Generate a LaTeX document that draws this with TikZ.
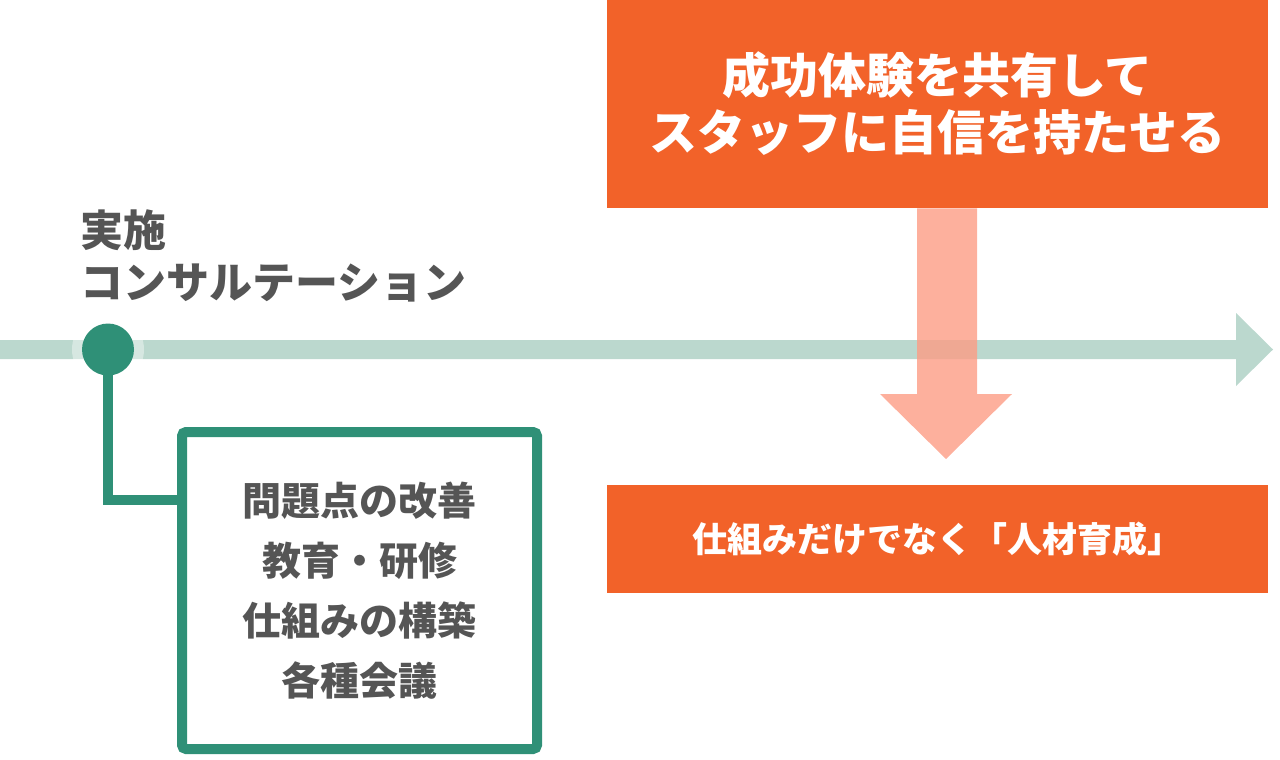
\documentclass[tikz,border=0pt]{standalone}
\usepackage{fontspec}
\setmainfont{Noto Sans CJK JP}
\usetikzlibrary{positioning}
\definecolor{accentorange}{RGB}{242, 98, 41}
\definecolor{softpink}{RGB}{252, 156, 133}
\definecolor{lineteal}{RGB}{187, 216, 206}
\definecolor{darkteal}{RGB}{47, 144, 119}
\definecolor{textgray}{RGB}{85, 85, 85}
\tikzset{
  orangebox/.style={fill=accentorange, text=white, align=center, inner sep=0pt, minimum width=330.5pt},
  itembox/.style={draw=darkteal, line width=5pt, rounded corners=2pt, fill=white, text=textgray, align=center,
    minimum width=177.5pt, minimum height=158.5pt},
}
\begin{document}
\begin{tikzpicture}[x=0.5pt, y=-0.5pt]
  \useasboundingbox (0,0) rectangle (1280,760);
  % timeline
  \fill[lineteal] (0,340) -- (1236,340) -- (1236,313) -- (1273,349.5) -- (1236,386) -- (1236,359) -- (0,359) -- cycle;

  % boxes
  \node[orangebox, minimum height=104pt, font=\bfseries\fontsize{24pt}{28.5pt}\selectfont] (goal) at (937.5,104)
    {成功体験を共有して\\スタッフに自信を持たせる};
  \node[orangebox, minimum height=54pt, font=\bfseries\fontsize{17.5pt}{21pt}\selectfont] (result) at (937.5,539)
    {仕組みだけでなく「人材育成」};
  \node[itembox, font=\bfseries\fontsize{19.5pt}{30pt}\selectfont] (items) at (359.5,590.5)
    {問題点の改善\\教育・研修\\仕組みの構築\\各種会議};

  % milestone on the timeline
  \node[circle, fill=white, fill opacity=0.4, minimum size=36pt, inner sep=0pt] (halo) at (108,349.5) {};
  \node[circle, fill=darkteal, minimum size=26pt, inner sep=0pt] (dot) at (108,349.5) {};
  \node[anchor=west, align=left, inner sep=0pt, text=textgray, font=\bfseries\fontsize{21.5pt}{26pt}\selectfont] (label) at (80,256)
    {実施\\コンサルテーション};
  \coordinate (elbow) at (108,500);
  \draw[darkteal, line width=5pt] (dot.center) -- (elbow) -- (elbow -| items.west);

  % big arrow down
  \fill[softpink, fill opacity=0.8] (goal.south -| 917,0) -- (goal.south -| 977,0) -- (977,394) -- (1012,394)
    -- (946,459) -- (880,394) -- (917,394) -- cycle;
\end{tikzpicture}
\end{document}
